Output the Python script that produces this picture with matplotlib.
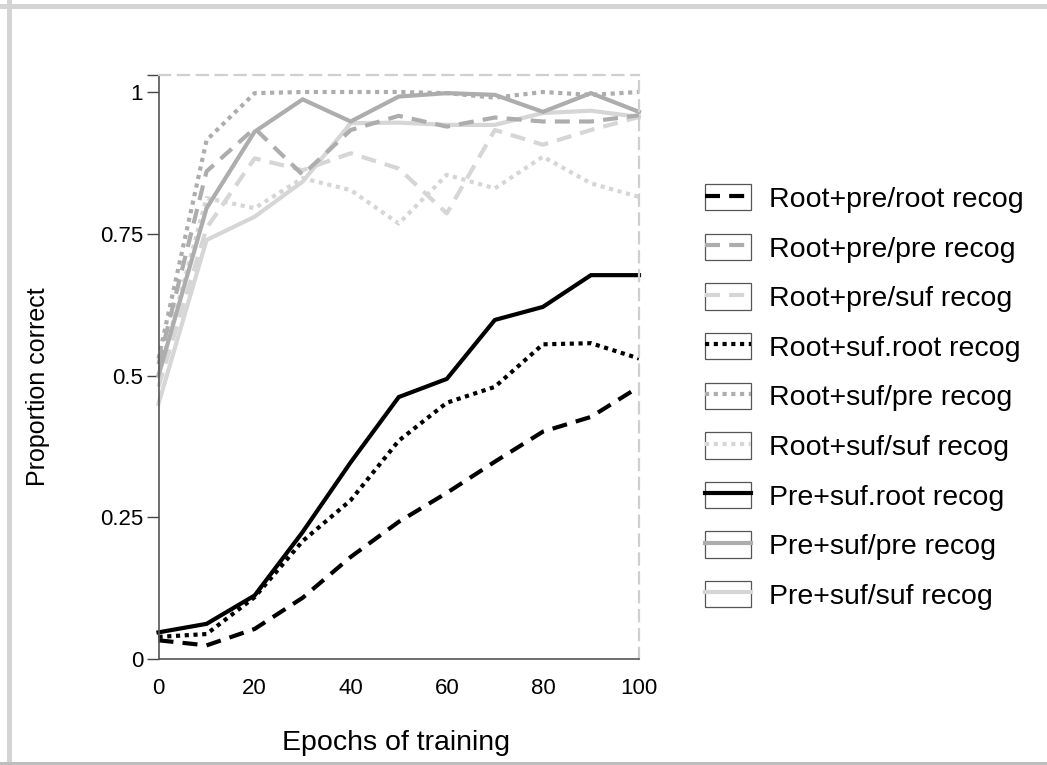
import matplotlib

matplotlib.use("Agg")
import matplotlib.pyplot as plt
from matplotlib.legend_handler import HandlerLine2D
from matplotlib.lines import Line2D
from matplotlib.patches import Rectangle

plt.rcParams["font.family"] = ["Liberation Sans", "DejaVu Sans"]

epochs = [0, 10, 20, 30, 40, 50, 60, 70, 80, 90, 100]

# root+prefix training
rp_root = [0.033, 0.024, 0.053, 0.108, 0.18, 0.242, 0.293, 0.348, 0.401, 0.427, 0.48]
rp_pre = [0.52, 0.86, 0.936, 0.854, 0.933, 0.958, 0.939, 0.955, 0.948, 0.948, 0.959]
rp_suf = [0.48, 0.76, 0.883, 0.862, 0.892, 0.865, 0.786, 0.933, 0.907, 0.933, 0.956]
# root+suffix training
rs_root = [0.039, 0.044, 0.109, 0.208, 0.28, 0.385, 0.452, 0.48, 0.555, 0.557, 0.53]
rs_pre = [0.53, 0.915, 0.998, 1.0, 1.0, 1.0, 0.998, 0.99, 1.0, 0.995, 1.0]
rs_suf = [0.5, 0.813, 0.795, 0.848, 0.827, 0.768, 0.854, 0.83, 0.886, 0.839, 0.815]
# prefix+suffix training
ps_root = [0.047, 0.062, 0.112, 0.224, 0.347, 0.462, 0.494, 0.598, 0.621, 0.677, 0.677]
ps_pre = [0.5, 0.795, 0.93, 0.987, 0.948, 0.992, 0.998, 0.995, 0.965, 0.998, 0.965]
ps_suf = [0.45, 0.739, 0.78, 0.842, 0.945, 0.946, 0.942, 0.942, 0.963, 0.967, 0.956]

labels = [
    "Root+pre/root recog",
    "Root+pre/pre recog",
    "Root+pre/suf recog",
    "Root+suf.root recog",
    "Root+suf/pre recog",
    "Root+suf/suf recog",
    "Pre+suf.root recog",
    "Pre+suf/pre recog",
    "Pre+suf/suf recog",
]
series = [rp_root, rp_pre, rp_suf, rs_root, rs_pre, rs_suf, ps_root, ps_pre, ps_suf]

BLACK = "#000000"
MID = "#adadad"
LIGHT = "#d6d6d6"
colors = [BLACK, MID, LIGHT] * 3
DASHED = (0, (3.6, 2.2))
DOTTED = (0, (1.0, 1.1))
SOLID = "-"
styles = [DASHED] * 3 + [DOTTED] * 3 + [SOLID] * 3


class BoxedLineHandler(HandlerLine2D):
    """Legend key: the line drawn inside a thin outlined box."""

    def create_artists(self, legend, orig_handle, xdescent, ydescent, width, height, fontsize, trans):
        box = Rectangle(
            (-xdescent, -ydescent),
            width,
            height,
            facecolor="white",
            edgecolor="#555555",
            linewidth=0.9,
            transform=trans,
        )
        artists = super().create_artists(
            legend, orig_handle, xdescent, ydescent, width, height, fontsize, trans
        )
        return [box] + artists


fig = plt.figure(figsize=(10.47, 7.65), dpi=100)
fig.patch.set_facecolor("white")

# light grey frame along the left, top and bottom edges
fig.patches.append(Rectangle((7 / 1047, 0), 5 / 1047, 1, transform=fig.transFigure,
                             facecolor="#d4d4d4", edgecolor="none"))
fig.patches.append(Rectangle((0, 1 - 9 / 765), 1, 5 / 765, transform=fig.transFigure,
                             facecolor="#d4d4d4", edgecolor="none"))
fig.patches.append(Rectangle((0, 0), 1, 3.5 / 765, transform=fig.transFigure,
                             facecolor="#bdbdbd", edgecolor="none"))

ax = fig.add_axes([158.5 / 1047, 1 - 659 / 765, (639 - 158.5) / 1047, (659 - 75) / 765])

# draw lightest first so the dark curves sit on top
order = [2, 5, 8, 1, 4, 7, 0, 3, 6]
lines = {}
for i in order:
    (ln,) = ax.plot(
        epochs,
        series[i],
        color=colors[i],
        linestyle=styles[i],
        linewidth=3.0,
        dash_capstyle="butt",
        solid_joinstyle="miter",
        clip_on=False,
        label=labels[i],
    )
    lines[i] = ln
handles = [lines[i] for i in range(9)]

ax.set_xlim(0, 100)
ax.set_ylim(0, 1.03)

ax.set_xticks([0, 20, 40, 60, 80, 100])
ax.set_yticks([0, 0.25, 0.5, 0.75, 1, 1.03])
ax.set_yticklabels(["0", "0.25", "0.5", "0.75", "1", ""])
ax.tick_params(axis="x", length=0, pad=14, labelsize=16)
ax.tick_params(axis="y", length=8.6, width=1.0, color="#444444", pad=2.5, labelsize=16)

for side in ("left", "bottom"):
    ax.spines[side].set_color("#555555")
    ax.spines[side].set_linewidth(1.2)
for side in ("top", "right"):
    ax.spines[side].set_color("#cfcfcf")
    ax.spines[side].set_linewidth(1.6)
    ax.spines[side].set_linestyle((0, (5, 3.5)))

ax.set_xlabel("Epochs of training", fontsize=20.5)
ax.set_ylabel("Proportion correct", fontsize=18)
ax.xaxis.set_label_coords(0.495, -0.122)
ax.yaxis.set_label_coords(-0.226, 0.466)

fig.legend(
    handles=handles,
    labels=labels,
    handler_map={Line2D: BoxedLineHandler()},
    loc="center left",
    bbox_to_anchor=(705 / 1047, 1 - 397 / 765),
    frameon=False,
    fontsize=20.5,
    handlelength=1.6,
    handleheight=1.05,
    handletextpad=0.65,
    labelspacing=0.727,
    borderpad=0,
    borderaxespad=0,
)

fig.savefig("out.png", dpi=100, facecolor="white")
